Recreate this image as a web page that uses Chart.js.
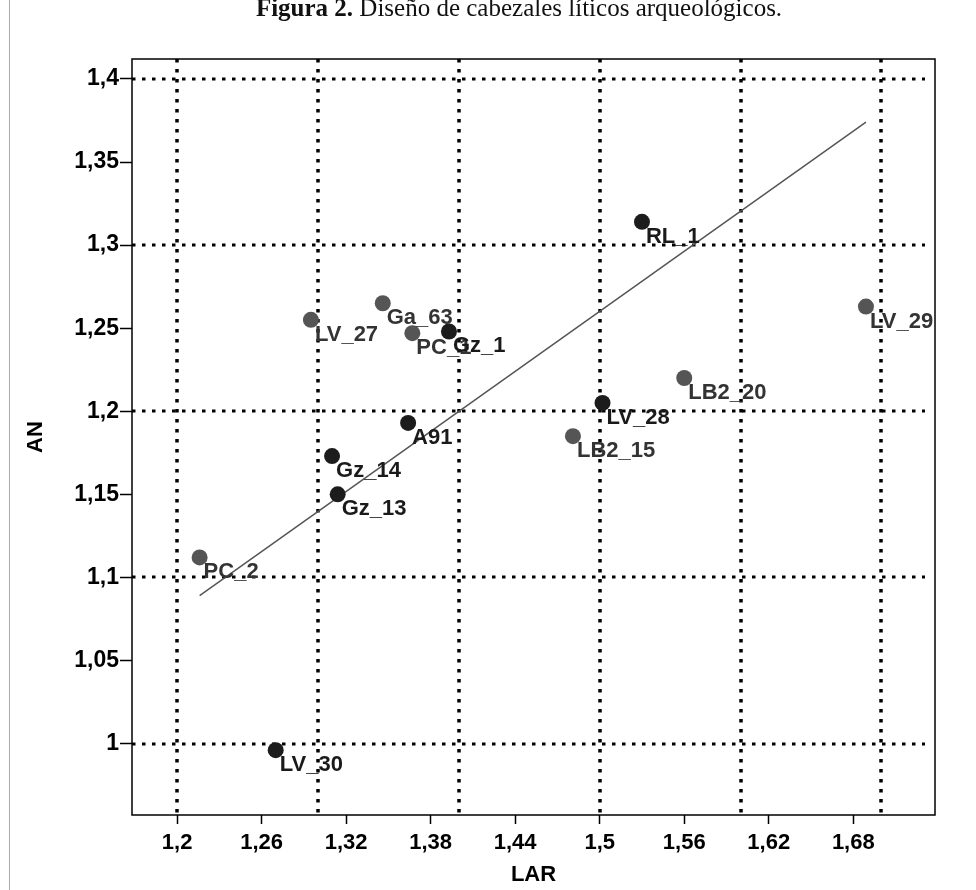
<!DOCTYPE html>
<html>
<head>
<meta charset="utf-8">
<script src="https://cdn.jsdelivr.net/npm/chart.js@4/dist/chart.umd.min.js"></script>
<style>
  body { margin: 0; background: #fff; }
  #wrap { position: relative; width: 976px; height: 890px; overflow: hidden; }
  #title { position: absolute; top: -6px; left: 0; width: 1038px; text-align: center;
           font-family: 'Liberation Serif', 'DejaVu Serif', serif; font-size: 25px; color: #111; white-space: nowrap; }
  #edge { position: absolute; left: 9px; top: 0; width: 1px; height: 890px; background: #aaa; }
  canvas { position: absolute; left: 0; top: 0; }
</style>
</head>
<body>
<div id="wrap">
  <canvas id="scatterChart" width="976" height="890"></canvas>
  <div id="edge"></div>
  <div id="title"><b>Figura 2.</b> Diseño de cabezales líticos arqueológicos.</div>
</div>
<script>
// grey group
var greyNames = ['LV_27', 'Ga_63', 'PC_1', 'LV_29', 'LB2_20', 'LB2_15', 'PC_2'];
var greyLar   = [1.295, 1.346, 1.367, 1.689, 1.560, 1.481, 1.216];
var greyAn    = [1.255, 1.265, 1.247, 1.263, 1.220, 1.185, 1.112];
// black group
var blackNames = ['RL_1', 'Gz_1', 'A91', 'Gz_14', 'Gz_13', 'LV_28', 'LV_30'];
var blackLar   = [1.530, 1.393, 1.364, 1.310, 1.314, 1.502, 1.270];
var blackAn    = [1.314, 1.248, 1.193, 1.173, 1.150, 1.205, 0.996];
// fitted line, ends
var fitLar = [1.216, 1.689];
var fitAn  = [1.089, 1.374];

var xTicks = [1.2, 1.26, 1.32, 1.38, 1.44, 1.5, 1.56, 1.62, 1.68];
var yTicks = [1, 1.05, 1.1, 1.15, 1.2, 1.25, 1.3, 1.35, 1.4];
var xGrid = [1.2, 1.3, 1.4, 1.5, 1.6, 1.7];
var yGrid = [1, 1.1, 1.2, 1.3, 1.4];

function pts(xs, ys) {
    return xs.map(function(v, i) { return { x: v, y: ys[i] }; });
}
function comma(v) { return String(v).replace('.', ','); }

var dotGrid = {
    id: 'dotGrid',
    beforeDatasetsDraw: function(chart) {
        var ctx = chart.ctx, a = chart.chartArea, x = chart.scales.x, y = chart.scales.y;
        ctx.save();
        ctx.strokeStyle = '#000';
        ctx.lineWidth = 3.5;
        ctx.setLineDash([3.5, 6.5]);
        xGrid.forEach(function(v) {
            var px = Math.round(x.getPixelForValue(v));
            ctx.beginPath(); ctx.moveTo(px, a.top); ctx.lineTo(px, a.bottom); ctx.stroke();
        });
        ctx.lineWidth = 3;
        yGrid.forEach(function(v) {
            var py = Math.round(y.getPixelForValue(v));
            ctx.beginPath(); ctx.moveTo(a.left, py); ctx.lineTo(a.right - 10, py); ctx.stroke();
        });
        ctx.restore();
    },
    afterDatasetsDraw: function(chart) {
        var ctx = chart.ctx, a = chart.chartArea;
        ctx.save();
        ctx.font = 'bold 22px "Liberation Sans", Arial, sans-serif';
        ctx.textBaseline = 'alphabetic';
        [[0, greyNames, '#333333'], [1, blackNames, '#1a1a1a']].forEach(function(g) {
            var meta = chart.getDatasetMeta(g[0]);
            ctx.fillStyle = g[2];
            meta.data.forEach(function(p, i) {
                ctx.fillText(g[1][i], p.x + 4, p.y + 21);
            });
        });
        ctx.strokeStyle = '#000';
        ctx.lineWidth = 1.5;
        ctx.strokeRect(a.left, a.top, a.right - a.left, a.bottom - a.top);
        ctx.restore();
    }
};

Chart.defaults.font.family = '"Liberation Sans", Arial, sans-serif';
Chart.defaults.color = '#000';

new Chart(document.getElementById('scatterChart'), {
    type: 'scatter',
    data: {
        datasets: [{
            label: 'grey',
            data: pts(greyLar, greyAn),
            backgroundColor: '#555555',
            borderWidth: 0,
            pointRadius: 8,
            order: 2
        }, {
            label: 'black',
            data: pts(blackLar, blackAn),
            backgroundColor: '#1c1c1c',
            borderWidth: 0,
            pointRadius: 8,
            order: 1
        }, {
            label: 'fit',
            data: pts(fitLar, fitAn),
            showLine: true,
            borderColor: '#555555',
            borderWidth: 1.5,
            pointRadius: 0,
            order: 3
        }]
    },
    options: {
        responsive: false,
        animation: false,
        layout: { padding: { left: 0, top: 59, right: 41, bottom: 0 } },
        plugins: { legend: { display: false }, tooltip: { enabled: false } },
        scales: {
            x: {
                type: 'linear',
                min: 1.168,
                max: 1.738,
                afterFit: function(s) { s.height = 75; },
                afterBuildTicks: function(s) { s.ticks = xTicks.map(function(v) { return { value: v }; }); },
                ticks: { callback: comma, font: { size: 22, weight: 'bold' }, padding: 6, maxRotation: 0, autoSkip: false },
                grid: { drawOnChartArea: false, drawTicks: true, tickLength: 9, tickColor: '#000', tickWidth: 1.5 },
                border: { display: false },
                title: { display: true, text: 'LAR', font: { size: 22, weight: 'bold' }, padding: { top: 2, bottom: 2 } }
            },
            y: {
                type: 'linear',
                min: 0.957,
                max: 1.412,
                afterFit: function(s) { s.width = 132; },
                afterBuildTicks: function(s) { s.ticks = yTicks.map(function(v) { return { value: v }; }); },
                ticks: { callback: comma, font: { size: 23, weight: 'bold' }, padding: 1, autoSkip: false },
                grid: { drawOnChartArea: false, drawTicks: true, tickLength: 12, tickColor: '#000', tickWidth: 1.5 },
                border: { display: false },
                title: { display: true, text: 'AN', font: { size: 22, weight: 'bold' }, padding: { top: 23, bottom: 0 } }
            }
        }
    },
    plugins: [dotGrid]
});
</script>
</body>
</html>
